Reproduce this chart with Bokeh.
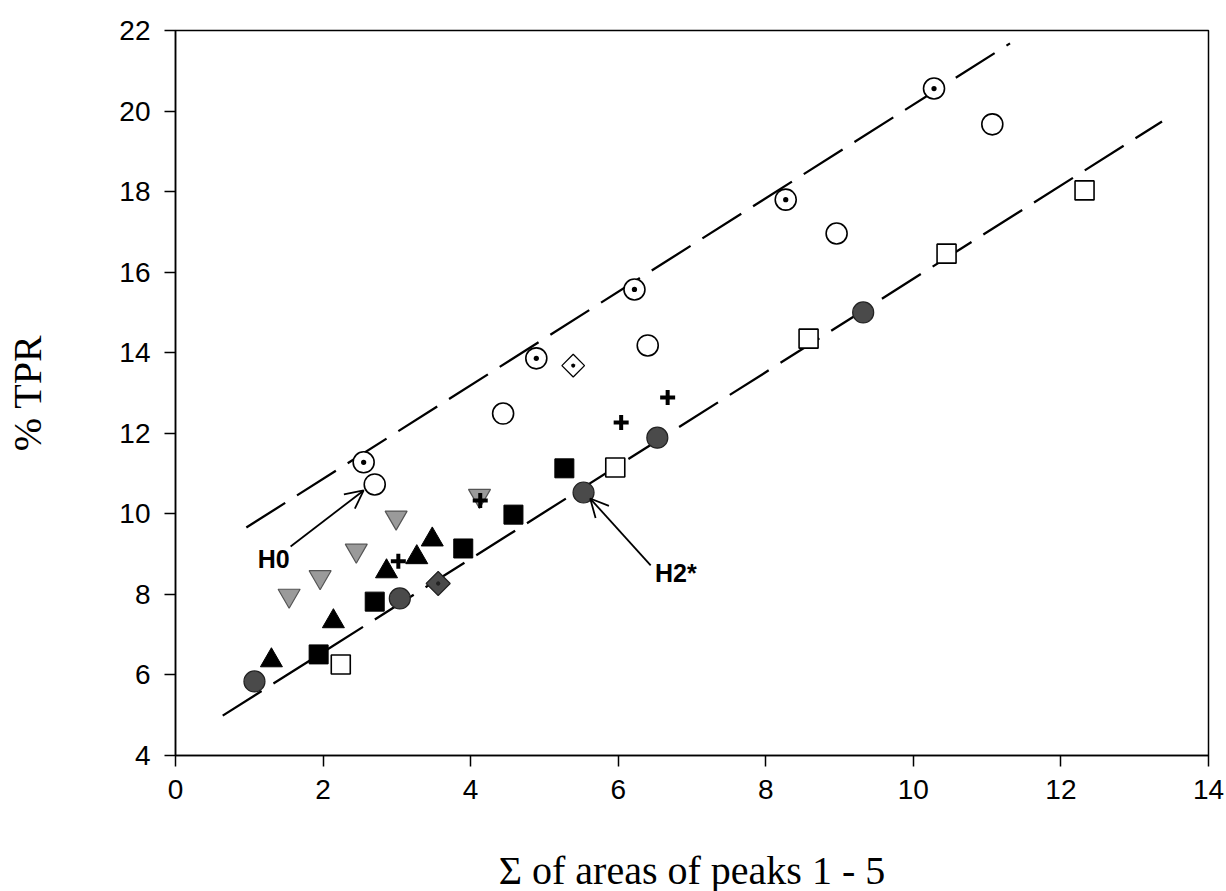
from bokeh.plotting import figure
from bokeh.models import Arrow, OpenHead, Range1d, FixedTicker
from bokeh.core.properties import value
from bokeh.embed import file_html
from bokeh.resources import INLINE
import math

# ---- data ----
dotcirc_x = [2.55, 4.89, 6.22, 8.27, 10.28]
dotcirc_y = [11.28, 13.86, 15.57, 17.80, 20.56]

opencirc_x = [2.70, 4.44, 6.40, 8.96, 11.07]
opencirc_y = [10.73, 12.49, 14.18, 16.96, 19.67]

opendiam_x = [5.39]
opendiam_y = [13.68]

cross_x = [3.02, 4.13, 6.04, 6.67]
cross_y = [8.82, 10.33, 12.27, 12.89]

graytri_x = [1.54, 1.96, 2.45, 2.99, 4.12]
graytri_y = [7.97, 8.43, 9.09, 9.91, 10.45]

blacktri_x = [1.30, 2.14, 2.86, 3.27, 3.48]
blacktri_y = [6.36, 7.33, 8.57, 8.92, 9.36]

blacksq_x = [1.94, 2.70, 3.90, 4.58, 5.27]
blacksq_y = [6.51, 7.82, 9.14, 9.98, 11.13]

opensq_x = [2.24, 5.96, 8.58, 10.45, 12.32]
opensq_y = [6.26, 11.15, 14.35, 16.46, 18.03]

darkcirc_x = [1.07, 3.04, 5.53, 6.53, 9.32]
darkcirc_y = [5.84, 7.90, 10.53, 11.89, 15.00]

darkdiam_x = [3.56]
darkdiam_y = [8.27]

upper_fit_x = [0.96, 11.31]
upper_fit_y = [9.66, 21.68]
lower_fit_x = [0.64, 13.37]
lower_fit_y = [4.99, 19.74]

ann_labels = ["H0", "H2*"]
ann_text_x = [1.33, 6.78]
ann_text_y = [8.89, 8.54]
ann_from_x = [1.56, 6.44]
ann_from_y = [9.19, 8.72]
ann_to_x = [2.55, 5.62]
ann_to_y = [10.58, 10.38]

x_ticks = [0, 2, 4, 6, 8, 10, 12, 14]
y_ticks = [4, 6, 8, 10, 12, 14, 16, 18, 20, 22]

# ---- figure ----
p = figure(frame_width=1033, frame_height=725,
           min_border_left=175, min_border_right=18,
           min_border_top=30, min_border_bottom=136,
           x_range=Range1d(0, 14), y_range=Range1d(4, 22),
           output_backend="svg", toolbar_location=None,
           background_fill_color="white", border_fill_color="white")
p.grid.visible = False
p.outline_line_color = "black"
p.outline_line_width = 1.5

for ax in (p.xaxis[0], p.yaxis[0]):
    ax.axis_line_width = 1.5
    ax.major_tick_line_width = 1.5
    ax.minor_tick_line_color = None
    ax.major_tick_in = 0
    ax.major_tick_out = 11
    ax.major_label_text_font = "Liberation Sans"
    ax.major_label_text_font_size = "28px"
    ax.major_label_text_color = "black"
    ax.axis_label_text_font = "Liberation Serif"
    ax.axis_label_text_font_style = "normal"
    ax.axis_label_text_font_size = "40px"
    ax.axis_label_text_color = "black"

p.xaxis.ticker = FixedTicker(ticks=x_ticks)
p.yaxis.ticker = FixedTicker(ticks=y_ticks)
p.xaxis.axis_label = "Σ of areas of peaks 1 - 5"
p.yaxis.axis_label = "% TPR"
p.xaxis.major_label_standoff = 13
p.yaxis.major_label_standoff = 14
p.xaxis.axis_label_standoff = 46
p.yaxis.axis_label_standoff = 66

# regression lines
p.line(upper_fit_x, upper_fit_y, line_color="black", line_width=2.3, line_dash="46 14")
p.line(lower_fit_x, lower_fit_y, line_color="black", line_width=2.3, line_dash="46 14")

# markers
p.scatter(opencirc_x, opencirc_y, marker="circle", size=21, fill_color="white",
          line_color="black", line_width=1.6)
p.scatter(dotcirc_x, dotcirc_y, marker="circle_dot", size=21, fill_color="white",
          line_color="black", line_width=1.6)
p.scatter(opendiam_x, opendiam_y, marker="square_dot", size=16, angle=math.pi / 4,
          fill_color="white", line_color="black", line_width=1.3)
p.scatter(opensq_x, opensq_y, marker="square", size=19, fill_color="white",
          line_color="black", line_width=1.6)
p.scatter(graytri_x, graytri_y, marker="inverted_triangle", size=22, fill_color="#9a9a9a",
          line_color="#555555", line_width=1.2)
p.scatter(blacktri_x, blacktri_y, marker="triangle", size=22, fill_color="black",
          line_color="black", line_width=1)
p.scatter(blacksq_x, blacksq_y, marker="square", size=19, fill_color="black",
          line_color="black", line_width=1)
p.scatter(darkcirc_x, darkcirc_y, marker="circle", size=21, fill_color="#4a4a4a",
          line_color="#222222", line_width=1.2)
p.scatter(darkdiam_x, darkdiam_y, marker="square_dot", size=17, angle=math.pi / 4,
          fill_color="#4a4a4a", line_color="#222222", line_width=1.2)
p.scatter(cross_x, cross_y, marker="cross", size=15, line_color="black", line_width=4)

# annotations
for i in range(len(ann_labels)):
    p.add_layout(Arrow(end=OpenHead(size=18, line_width=1.8, line_color="black"),
                       x_start=ann_from_x[i], y_start=ann_from_y[i],
                       x_end=ann_to_x[i], y_end=ann_to_y[i],
                       line_width=1.8, line_color="black"))
p.text(ann_text_x, ann_text_y, text=ann_labels, text_font=value("Liberation Sans"),
       text_font_style="bold", text_font_size="25px", text_align="center",
       text_baseline="middle", text_color="black")

open("out.html", "w").write(file_html(p, INLINE))
